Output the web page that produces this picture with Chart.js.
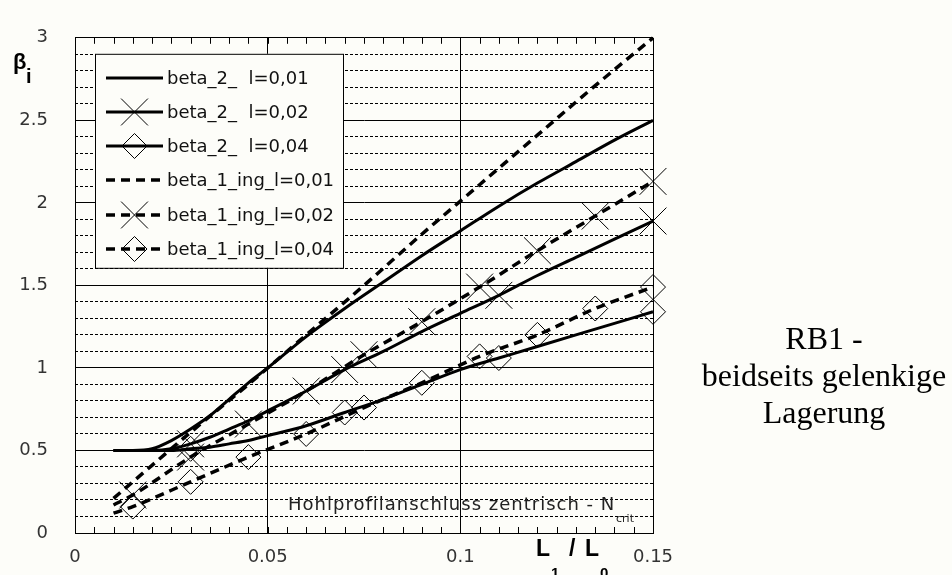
<!DOCTYPE html>
<html>
<head>
<meta charset="utf-8">
<script src="https://cdn.jsdelivr.net/npm/chart.js@4/dist/chart.umd.min.js"></script>
<style>
  html, body { margin: 0; padding: 0; background: #fdfdf9; }
  #wrap { position: relative; width: 952px; height: 575px; overflow: hidden; }
  #chart { position: absolute; left: 0; top: 0; }
  .t { position: absolute; white-space: nowrap; line-height: 1; color: #000; }
  .sans { font-family: "Liberation Sans", Arial, sans-serif; font-weight: bold; }
  .serif { font-family: "Liberation Serif", "Times New Roman", serif; font-size: 32px; line-height: 32px; width: 254px; left: 697px; text-align: center; }
  .note { font-family: "DejaVu Sans", sans-serif; font-size: 18px; line-height: 18px; letter-spacing: 1px; color: #222; }
</style>
</head>
<body>
<div id="wrap">
  <canvas id="chart" width="952" height="575"></canvas>

  <!-- Achsentitel -->
  <div class="t sans" style="left:13px; top:51px; font-size:22px; line-height:22px;">β</div>
  <div class="t sans" style="left:26px; top:66px; font-size:20px; line-height:20px;">i</div>
  <div class="t sans" style="left:536px; top:537px; font-size:23px; line-height:23px;">L</div>
  <div class="t sans" style="left:551px; top:565px; font-size:15px; line-height:15px;">1</div>
  <div class="t sans" style="left:569px; top:537px; font-size:23px; line-height:23px;">/</div>
  <div class="t sans" style="left:585px; top:537px; font-size:23px; line-height:23px;">L</div>
  <div class="t sans" style="left:600px; top:565px; font-size:15px; line-height:15px;">0</div>

  <!-- Beschriftung im Diagramm -->
  <div class="t note" style="left:288px; top:495px;">Hohlprofilanschluss zentrisch - N</div>
  <div class="t note" style="left:616px; top:513px; font-size:11px; line-height:11px; letter-spacing:0;">crit</div>

  <!-- Text rechts -->
  <div class="t serif" style="top:322px;">RB1 -</div>
  <div class="t serif" style="top:359px;">beidseits gelenkige</div>
  <div class="t serif" style="top:396px;">Lagerung</div>
</div>

<script>
// x-Werte (L1 / L0)
const xSolid = [0.01, 0.015, 0.02, 0.025, 0.03, 0.035, 0.04, 0.045, 0.05, 0.06, 0.07, 0.08, 0.09, 0.10, 0.11, 0.12, 0.13, 0.14, 0.15];
const xDashed = [0.01, 0.015, 0.03, 0.045, 0.06, 0.075, 0.09, 0.105, 0.12, 0.135, 0.15];

// beta_2 (durchgezogen)
const beta2_l001 = [0.5, 0.5, 0.51, 0.56, 0.63, 0.71, 0.81, 0.91, 1.0, 1.19, 1.36, 1.52, 1.68, 1.83, 1.98, 2.12, 2.25, 2.38, 2.5];
const beta2_l002 = [0.5, 0.5, 0.5, 0.51, 0.54, 0.58, 0.63, 0.68, 0.74, 0.86, 0.99, 1.1, 1.22, 1.33, 1.44, 1.56, 1.67, 1.78, 1.89];
const beta2_l004 = [0.5, 0.5, 0.5, 0.5, 0.51, 0.52, 0.54, 0.56, 0.59, 0.65, 0.73, 0.81, 0.9, 0.99, 1.06, 1.13, 1.2, 1.27, 1.34];

// beta_1_ing (gestrichelt)
const beta1_l001 = [0.21, 0.31, 0.61, 0.9, 1.2, 1.5, 1.81, 2.11, 2.41, 2.71, 3.0];
const beta1_l002 = [0.17, 0.23, 0.46, 0.66, 0.86, 1.08, 1.28, 1.49, 1.71, 1.92, 2.13];
const beta1_l004 = [0.12, 0.16, 0.31, 0.46, 0.6, 0.76, 0.91, 1.07, 1.2, 1.36, 1.49];

// Markerpositionen
const solidMarks = [0.03, 0.07, 0.11, 0.15];
const dashedMarks = [0.015, 0.03, 0.045, 0.06, 0.075, 0.09, 0.105, 0.12, 0.135, 0.15];

const legendLabels = ['beta_2_  l=0,01', 'beta_2_  l=0,02', 'beta_2_  l=0,04',
                      'beta_1_ing_l=0,01', 'beta_1_ing_l=0,02', 'beta_1_ing_l=0,04'];

const xTicks = [0, 0.05, 0.1, 0.15];

const BG = '#fdfdf9';
const DASH = [9, 6];

function markerSize(style) {
    return style === 'crossRot' ? 19 : 12.5;
}

function makeSet(label, xs, ys, dashed, style, marks) {
    return {
        label: label,
        data: xs.map((x, i) => ({ x: x, y: ys[i] })),
        borderColor: '#000',
        borderWidth: dashed ? 3.5 : 3,
        borderDash: dashed ? DASH : [],
        cubicInterpolationMode: 'monotone',
        pointStyle: style || 'circle',
        markerStyle: style,
        pointRadius: (ctx) => {
            if (!style || !ctx.raw) return 0;
            return marks.some(m => Math.abs(m - ctx.raw.x) < 1e-9) ? markerSize(style) : 0;
        },
        pointBorderColor: '#000',
        pointBackgroundColor: 'rgba(0,0,0,0)',
        pointBorderWidth: 1,
        clip: false
    };
}

// Marker für die Legende
function drawMarker(c, style, x, y) {
    if (!style) return;
    const r = markerSize(style);
    c.save();
    c.setLineDash([]);
    c.lineWidth = 1;
    c.strokeStyle = '#000';
    c.beginPath();
    if (style === 'crossRot') {
        const d = r * Math.SQRT1_2;
        c.moveTo(x - d, y - d); c.lineTo(x + d, y + d);
        c.moveTo(x - d, y + d); c.lineTo(x + d, y - d);
    } else {
        c.moveTo(x - r, y); c.lineTo(x, y - r); c.lineTo(x + r, y); c.lineTo(x, y + r);
        c.closePath();
    }
    c.stroke();
    c.restore();
}

// kleine Striche oben/unten alle 0.005
const innerTicks = {
    id: 'innerTicks',
    afterDatasetsDraw(chart) {
        const c = chart.ctx;
        const a = chart.chartArea;
        const xs = chart.scales.x;
        c.save();
        c.strokeStyle = '#000';
        c.lineWidth = 1;
        c.beginPath();
        for (let i = 1; i < 30; i++) {
            const px = Math.round(xs.getPixelForValue(i * 0.005)) + 0.5;
            c.moveTo(px, a.top); c.lineTo(px, a.top + 6);
            c.moveTo(px, a.bottom); c.lineTo(px, a.bottom - 6);
        }
        c.stroke();
        c.restore();
    }
};

// Legende im Diagramm
const boxLegend = {
    id: 'boxLegend',
    afterDatasetsDraw(chart) {
        const c = chart.ctx;
        const a = chart.chartArea;
        const left = a.left + 20, top = a.top + 16, w = 248, h = 214;
        c.save();
        c.fillStyle = BG;
        c.fillRect(left, top, w, h);
        c.strokeStyle = '#000';
        c.lineWidth = 1;
        c.strokeRect(left + 0.5, top + 0.5, w, h);

        c.font = '18px "DejaVu Sans", sans-serif';
        c.textBaseline = 'middle';
        c.fillStyle = '#111';
        chart.data.datasets.forEach((ds, i) => {
            const y = Math.round(top + 24 + i * 34.2);
            const x0 = left + 11, x1 = left + 68;
            c.save();
            c.strokeStyle = '#000';
            c.lineWidth = ds.borderWidth;
            c.setLineDash(ds.borderDash);
            c.beginPath();
            c.moveTo(x0, y); c.lineTo(x1, y);
            c.stroke();
            c.restore();
            drawMarker(c, ds.markerStyle, (x0 + x1) / 2, y);
            c.fillText(legendLabels[i], left + 72, y + 1);
        });
        c.restore();
    }
};

function isHalf(v) {
    return Math.abs(v * 2 - Math.round(v * 2)) < 1e-6;
}

const tickFont = { family: '"DejaVu Sans", sans-serif', size: 18 };

new Chart(document.getElementById('chart'), {
    type: 'line',
    data: {
        datasets: [
            makeSet(legendLabels[0], xSolid, beta2_l001, false, null, solidMarks),
            makeSet(legendLabels[1], xSolid, beta2_l002, false, 'crossRot', solidMarks),
            makeSet(legendLabels[2], xSolid, beta2_l004, false, 'rectRot', solidMarks),
            makeSet(legendLabels[3], xDashed, beta1_l001, true, null, dashedMarks),
            makeSet(legendLabels[4], xDashed, beta1_l002, true, 'crossRot', dashedMarks),
            makeSet(legendLabels[5], xDashed, beta1_l004, true, 'rectRot', dashedMarks)
        ]
    },
    options: {
        responsive: false,
        animation: false,
        events: [],
        layout: { padding: { top: 27, right: 299, bottom: 0, left: 0 } },
        plugins: {
            legend: { display: false },
            tooltip: { enabled: false }
        },
        scales: {
            x: {
                type: 'linear',
                min: 0,
                max: 0.15,
                afterBuildTicks: (s) => { s.ticks = xTicks.map(v => ({ value: v })); },
                ticks: {
                    color: '#333',
                    font: tickFont,
                    padding: 14,
                    maxRotation: 0,
                    callback: (v) => String(Math.round(v * 100) / 100)
                },
                grid: { color: '#000', lineWidth: 1, drawTicks: false },
                border: { color: '#000', width: 1 },
                afterFit: (s) => { s.height = 42; }
            },
            yMinor: {
                type: 'linear',
                position: 'left',
                min: 0,
                max: 3,
                ticks: { stepSize: 0.1, display: false },
                grid: {
                    drawTicks: false,
                    lineWidth: 1,
                    color: (ctx) => (ctx.tick && !isHalf(ctx.tick.value)) ? '#000' : 'rgba(0,0,0,0)'
                },
                border: { display: false, dash: [3, 2] },
                afterFit: (s) => { s.width = 0; }
            },
            y: {
                type: 'linear',
                position: 'left',
                min: 0,
                max: 3,
                ticks: {
                    stepSize: 0.5,
                    color: '#333',
                    font: tickFont,
                    padding: 27,
                    callback: (v) => String(Math.round(v * 10) / 10)
                },
                grid: { color: '#000', lineWidth: 1, drawTicks: false },
                border: { color: '#000', width: 1 },
                afterFit: (s) => { s.width = 75; }
            }
        }
    },
    plugins: [innerTicks, boxLegend]
});
</script>
</body>
</html>
